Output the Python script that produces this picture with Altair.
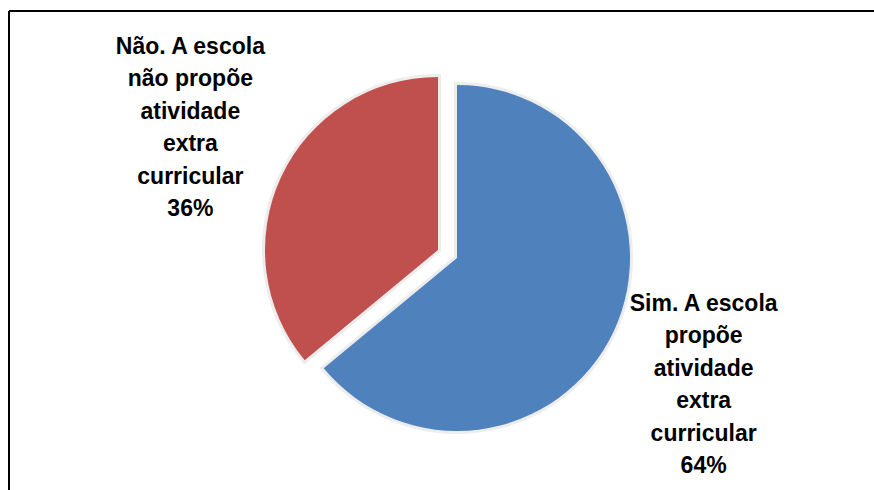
import altair as alt
import pandas as pd
import math

categories = ["Sim", "Não"]
values = [64, 36]
labels = [
    "Sim. A escola\npropõe\natividade\nextra\ncurricular\n64%",
    "Não. A escola\nnão propõe\natividade\nextra\ncurricular\n36%",
]
colors = ["#4F81BD", "#C0504D"]
order = [0, 1]

df = pd.DataFrame({"cat": categories, "value": values, "label": labels, "ord": order})

theta_scale = alt.Scale(domain=[0, 100], range=[0, 2 * math.pi])

base = (
    alt.Chart(df)
    .transform_window(cum="sum(value)", sort=[alt.SortField("ord")], frame=[None, 0])
    .transform_calculate(start="datum.cum - datum.value", mid="datum.cum - datum.value/2")
)

# slice centres (exploded red slice) and label nudges
centers = {"Sim": (457, 258), "Não": (438, 250)}
nudges = {"Sim": (-4, 9), "Não": (3, -4)}
R = 173
label_r = 277
line_h = 32.5

layers = []
for cat, col in zip(categories, colors):
    cx, cy = centers[cat]
    ndx, ndy = nudges[cat]
    b = base.transform_filter(alt.datum.cat == cat)
    shadow = b.mark_arc(fill="#e6e6e6", stroke="#ededed", strokeWidth=6, strokeJoin="miter").encode(
        theta=alt.Theta("start:Q", scale=theta_scale, stack=None),
        theta2="cum:Q",
        radius=alt.value(R),
        x=alt.value(cx),
        y=alt.value(cy),
    )
    arc = b.mark_arc(fill=col).encode(
        theta=alt.Theta("start:Q", scale=theta_scale, stack=None),
        theta2="cum:Q",
        radius=alt.value(R),
        x=alt.value(cx),
        y=alt.value(cy),
    )
    txt = b.mark_text(
        lineBreak="\n", font="Liberation Sans", fontWeight="bold", fontSize=23,
        lineHeight=line_h, align="center", baseline="middle", color="#000000",
        dy=-2.5 * line_h + ndy, dx=ndx,
    ).encode(
        theta=alt.Theta("mid:Q", scale=theta_scale, stack=None),
        radius=alt.value(label_r),
        x=alt.value(cx),
        y=alt.value(cy),
        text="label:N",
    )
    layers += [shadow, arc, txt]

top_border = alt.Chart(df).mark_rule(color="#000000", strokeWidth=2).encode(
    x=alt.value(9), x2=alt.value(874), y=alt.value(11)
)
left_border = alt.Chart(df).mark_rule(color="#000000", strokeWidth=2).encode(
    x=alt.value(9), y=alt.value(11), y2=alt.value(490)
)

chart = alt.layer(*layers, top_border, left_border).properties(
    width=874, height=490, padding=0, autosize=alt.AutoSizeParams(type="none")
).configure_view(stroke=None)

chart.save("out.html", embed_options={"renderer": "svg", "actions": False})
